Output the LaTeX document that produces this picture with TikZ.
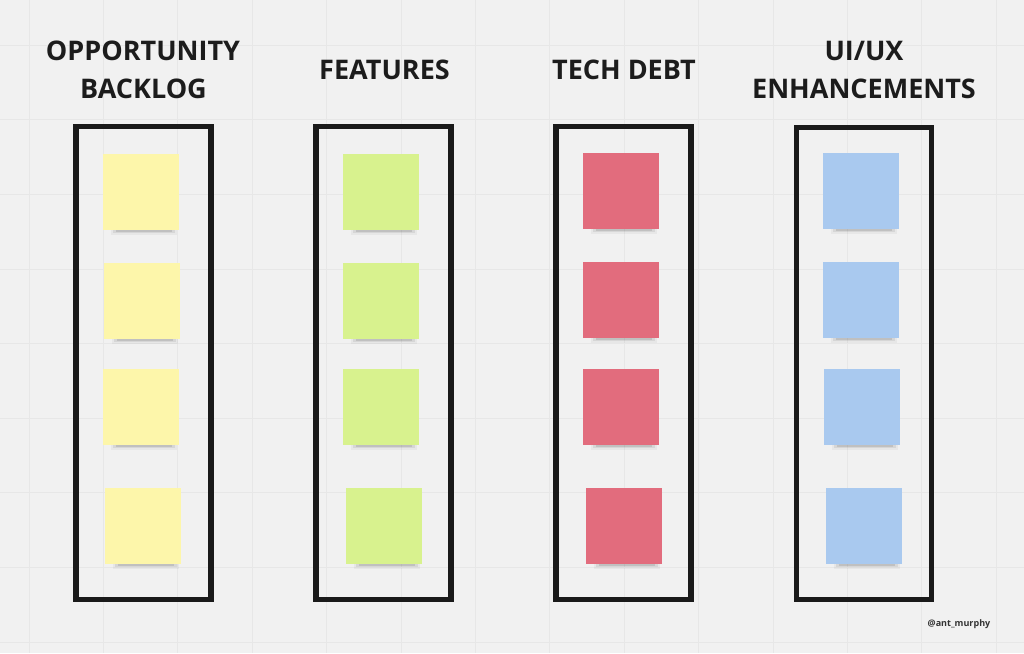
\documentclass[tikz,border=0pt]{standalone}
\usepackage{fontspec}
\setmainfont{Open Sans}
\begin{document}
\begin{tikzpicture}[x=1pt,y=-1pt,
  board/.style={line width=5.5pt,draw=frameblack},
  note/.style={draw=none,minimum width=76pt,minimum height=76pt,inner sep=0pt},
  headline/.style={anchor=base,inner sep=0pt,font=\fontsize{27}{30}\selectfont\bfseries,text=titleblack},
  gridline/.style={draw=gridgray,line width=0.8pt}]
\definecolor{canvas}{HTML}{F1F1F1}
\definecolor{gridgray}{HTML}{E7E7E7}
\definecolor{frameblack}{HTML}{1A1A1A}
\definecolor{titleblack}{HTML}{1C1C1C}
\definecolor{noteyellow}{HTML}{FDF6AA}
\definecolor{notegreen}{HTML}{D8F28E}
\definecolor{notered}{HTML}{E26C7D}
\definecolor{noteblue}{HTML}{A9C9EF}

% canvas and its board grid
\useasboundingbox (0,0) rectangle (1024,653);
\fill[canvas] (0,0) rectangle (1024,653);
\foreach \gx in {29,103.4,177.8,252.2,326.6,401,475.4,549.8,624.2,698.6,773,847.4,921.8,996.2}
  \draw[gridline] (\gx,0) -- (\gx,653);
\foreach \gy in {45.2,119.8,194.4,269,343.6,418.2,492.8,567.4,642}
  \draw[gridline] (0,\gy) -- (1024,\gy);

% column headings
\node[headline] (t1a) at (143,60) {OPPORTUNITY};
\node[headline] (t1b) at (143.5,98) {BACKLOG};
\node[headline] (t2)  at (384.5,79) {FEATURES};
\node[headline] (t3)  at (624,79) {TECH DEBT};
\node[headline] (t4a) at (864,60) {UI/UX};
\node[headline] (t4b) at (864,98) {ENHANCEMENTS};

% column frames
\draw[board] (76,126.5) rectangle (211,599.5);
\draw[board] (316,126.5) rectangle (451,599.5);
\draw[board] (556,126.5) rectangle (691,599.5);
\draw[board] (796.5,127.5) rectangle (931.5,599.5);

% sticky notes: soft shadow strip under each, then the note itself
\newcommand{\sticky}[4]{%
  \fill[black,opacity=0.04] (#2-30,#3+34) rectangle (#2+36,#3+43);
  \fill[black,opacity=0.07] (#2-28,#3+36) rectangle (#2+34,#3+41);
  \fill[black,opacity=0.10] (#2-25,#3+37) rectangle (#2+31,#3+40);
  \node[note,fill=#4] (#1) at (#2,#3) {};
}
\sticky{y1}{141}{191.5}{noteyellow}
\sticky{y2}{141.5}{300.5}{noteyellow}
\sticky{y3}{141}{407}{noteyellow}
\sticky{y4}{143}{526}{noteyellow}
\sticky{g1}{380.5}{191.5}{notegreen}
\sticky{g2}{380.5}{300.5}{notegreen}
\sticky{g3}{381}{407}{notegreen}
\sticky{g4}{383.5}{525.5}{notegreen}
\sticky{r1}{621}{191}{notered}
\sticky{r2}{621}{300}{notered}
\sticky{r3}{620.5}{407}{notered}
\sticky{r4}{624}{526}{notered}
\sticky{b1}{861}{191}{noteblue}
\sticky{b2}{861}{300}{noteblue}
\sticky{b3}{861.5}{407}{noteblue}
\sticky{b4}{863.5}{526}{noteblue}

% author handle
\node[anchor=base,inner sep=0pt,font=\fontsize{9}{10}\selectfont\bfseries,text=black!80] (tag) at (959,626) {@ant\_murphy};
\end{tikzpicture}
\end{document}
